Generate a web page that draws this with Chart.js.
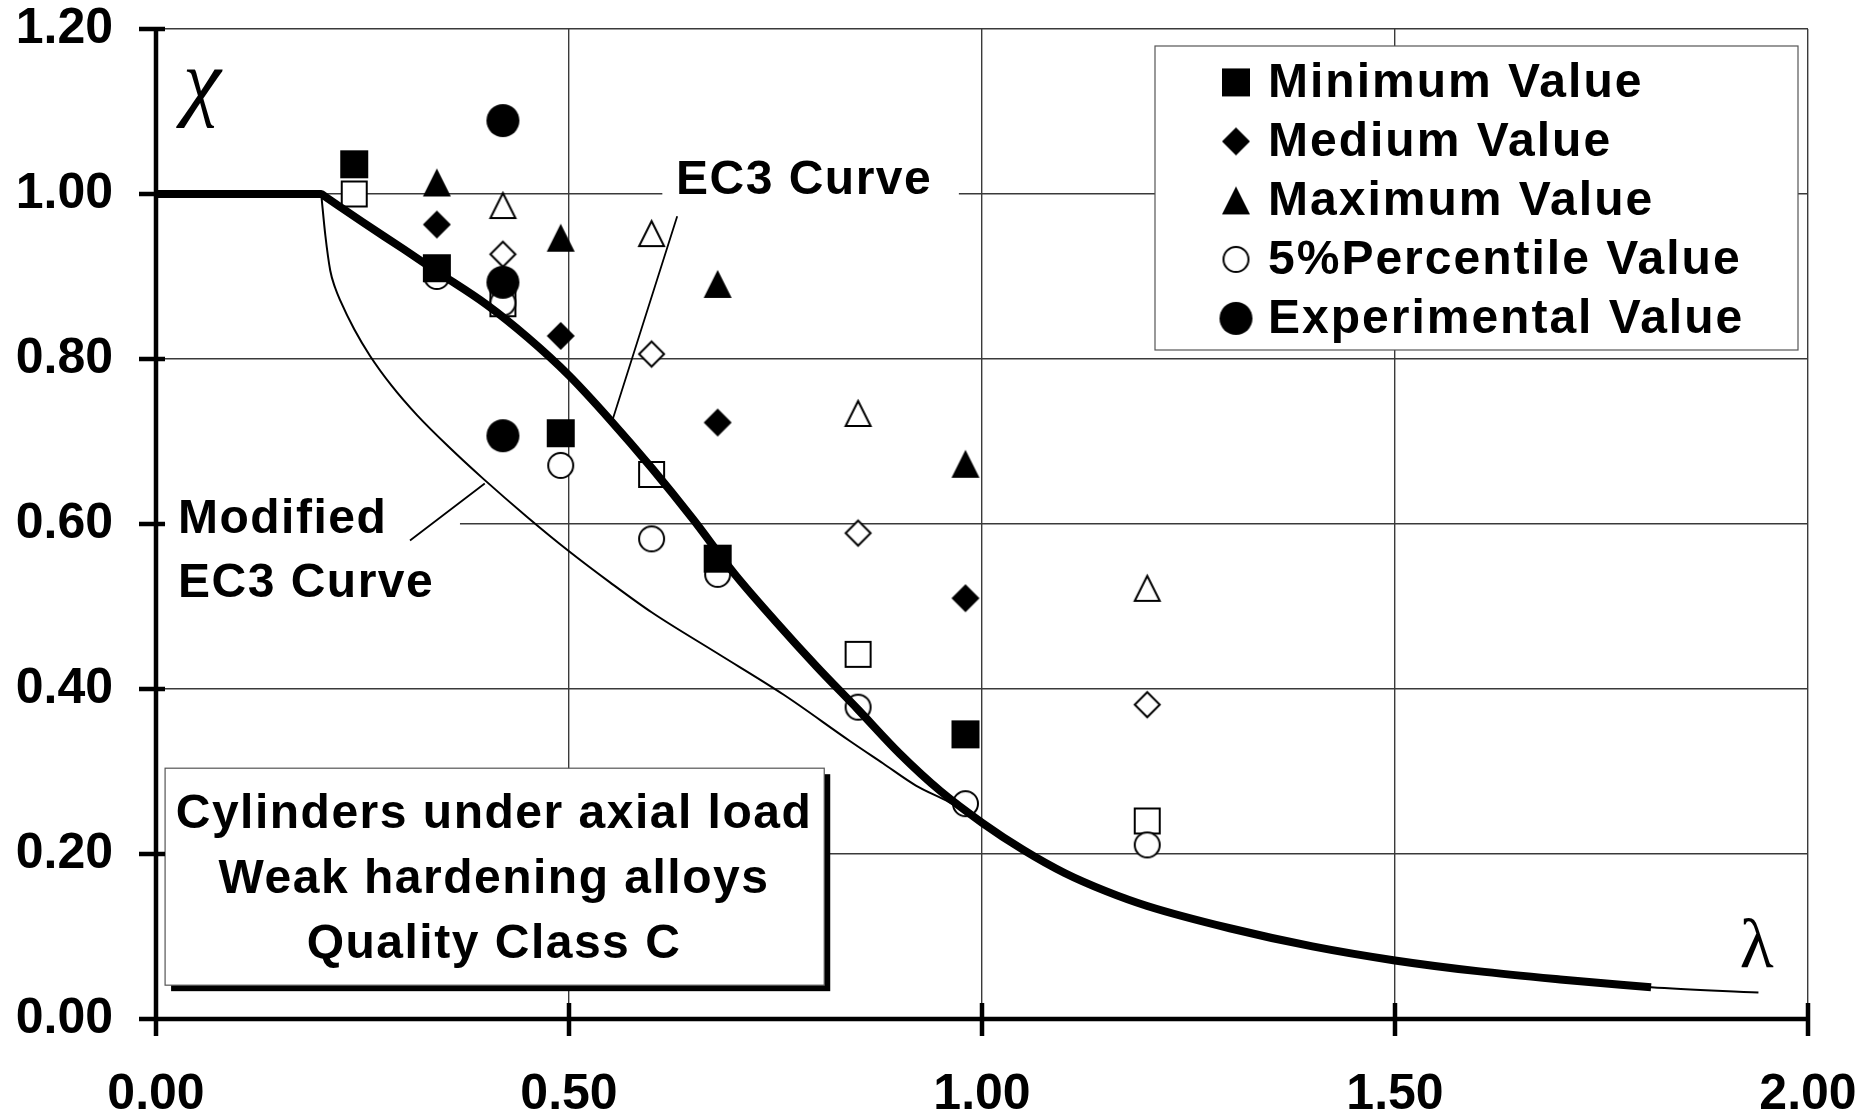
<!DOCTYPE html>
<html>
<head>
<meta charset="utf-8">
<script src="https://cdn.jsdelivr.net/npm/chart.js@4.4.0/dist/chart.umd.min.js"></script>
<style>
  html, body { margin: 0; padding: 0; background: #fff; }
  #chart { display: block; }
</style>
</head>
<body>
<canvas id="chart" width="1868" height="1116"></canvas>
<script>
// axis ticks
const xTicks = [0, 0.5, 1.0, 1.5, 2.0];
const yTicks = [0, 0.2, 0.4, 0.6, 0.8, 1.0, 1.2];

// filled markers (legend series)
const minX = [0.24, 0.34, 0.49, 0.68, 0.98];
const minY = [1.036, 0.910, 0.710, 0.558, 0.345];
const medX = [0.34, 0.49, 0.68, 0.98];
const medY = [0.963, 0.828, 0.723, 0.510];
const maxX = [0.34, 0.49, 0.68, 0.98];
const maxY = [1.014, 0.947, 0.891, 0.673];
const pctX = [0.34, 0.42, 0.49, 0.60, 0.68, 0.85, 0.98, 1.20];
const pctY = [0.900, 0.868, 0.671, 0.582, 0.539, 0.378, 0.261, 0.211];
const expX = [0.42, 0.42, 0.42];
const expY = [1.089, 0.893, 0.707];

// open markers (second set, not in legend)
const min2X = [0.24, 0.42, 0.60, 0.85, 1.20];
const min2Y = [1.000, 0.867, 0.660, 0.442, 0.240];
const med2X = [0.42, 0.60, 0.85, 1.20];
const med2Y = [0.927, 0.806, 0.589, 0.381];
const max2X = [0.42, 0.60, 0.85, 1.20];
const max2Y = [0.986, 0.952, 0.734, 0.522];

// EC3 curve (thick)
const ec3X = [0, 0.20, 0.205, 0.25, 0.30, 0.34, 0.40, 0.45, 0.50, 0.55, 0.60, 0.65, 0.70, 0.75, 0.80, 0.85, 0.90, 0.95, 1.00, 1.05, 1.10, 1.15, 1.20, 1.30, 1.40, 1.50, 1.60, 1.70, 1.81];
const ec3Y = [1.000, 1.000, 0.9966, 0.966, 0.933, 0.906, 0.866, 0.826, 0.780, 0.726, 0.668, 0.606, 0.540, 0.482, 0.427, 0.375, 0.322, 0.276, 0.238, 0.205, 0.177, 0.155, 0.137, 0.110, 0.088, 0.071, 0.058, 0.048, 0.0385];

// modified EC3 curve (thin)
const modX = [0.200, 0.205, 0.211, 0.217, 0.223, 0.240, 0.259, 0.285, 0.316, 0.355, 0.396, 0.450, 0.500, 0.550, 0.600, 0.680, 0.760, 0.840, 0.880, 0.920, 0.960, 1.00, 1.05, 1.10, 1.15, 1.20, 1.30, 1.40, 1.50, 1.60, 1.70, 1.81, 1.94];
const modY = [1.000, 0.950, 0.907, 0.886, 0.871, 0.836, 0.804, 0.768, 0.732, 0.693, 0.655, 0.608, 0.567, 0.529, 0.493, 0.443, 0.393, 0.337, 0.310, 0.283, 0.263, 0.238, 0.205, 0.177, 0.155, 0.137, 0.110, 0.088, 0.071, 0.058, 0.048, 0.0385, 0.032];

const legendOrder = ['Minimum Value', 'Medium Value', 'Maximum Value', '5%Percentile Value', 'Experimental Value'];
const boxLines = ['Cylinders under axial load', 'Weak hardening alloys', 'Quality Class C'];

const SANS = '"Liberation Sans", Arial, sans-serif';
const SERIF = '"Liberation Serif", "Times New Roman", serif';

function pts(xs, ys) {
    return xs.map((v, i) => ({x: v, y: ys[i]}));
}

// small canvases used as point styles, so the marker shapes match the original
function markerImg(shape, size, open) {
    const c = document.createElement('canvas');
    const n = Math.ceil(size) + 4;
    c.width = n;
    c.height = n;
    const g = c.getContext('2d');
    const m = n / 2;
    const h = open ? size / 2 - 1 : size / 2;
    g.beginPath();
    if (shape === 'square') {
        g.rect(m - h, m - h, 2 * h, 2 * h);
    } else if (shape === 'diamond') {
        g.moveTo(m, m - h); g.lineTo(m + h, m); g.lineTo(m, m + h); g.lineTo(m - h, m); g.closePath();
    } else if (shape === 'triangle') {
        g.moveTo(m, m - h); g.lineTo(m + h, m + h); g.lineTo(m - h, m + h); g.closePath();
    } else {
        g.arc(m, m, h, 0, Math.PI * 2);
    }
    g.fillStyle = open ? '#fff' : '#000';
    g.fill();
    if (open) {
        g.lineWidth = 2;
        g.strokeStyle = '#000';
        g.stroke();
    }
    return c;
}

function markers(label, xs, ys, img) {
    return {label: label, data: pts(xs, ys), pointStyle: img, pointRadius: 14, pointHoverRadius: 14, showLine: false};
}

const datasets = [
    {label: 'EC3 Curve', data: pts(ec3X, ec3Y), showLine: true, borderColor: '#000', borderWidth: 8, pointRadius: 0, cubicInterpolationMode: 'monotone'},
    {label: 'Modified EC3 Curve', data: pts(modX, modY), showLine: true, borderColor: '#000', borderWidth: 2, pointRadius: 0, cubicInterpolationMode: 'monotone'},
    markers('Experimental Value', expX, expY, markerImg('circle', 33, false)),
    markers('Minimum Value', minX, minY, markerImg('square', 28, false)),
    markers('Medium Value', medX, medY, markerImg('diamond', 28, false)),
    markers('Maximum Value', maxX, maxY, markerImg('triangle', 28, false)),
    markers('5%Percentile Value', pctX, pctY, markerImg('circle', 27, true)),
    markers('Maximum Value (open)', max2X, max2Y, markerImg('triangle', 27, true)),
    markers('Medium Value (open)', med2X, med2Y, markerImg('diamond', 27, true)),
    markers('Minimum Value (open)', min2X, min2Y, markerImg('square', 27, true)),
];

const decor = {
    id: 'decor',
    beforeDatasetsDraw(chart) {
        const {ctx, chartArea: a} = chart;
        const px = v => chart.scales.x.getPixelForValue(v);
        const py = v => chart.scales.y.getPixelForValue(v);
        ctx.save();

        // white patches behind the two curve labels
        ctx.fillStyle = '#fff';
        ctx.fillRect(px(0.613), py(1.053), px(0.972) - px(0.613), py(0.986) - py(1.053));
        ctx.fillRect(px(0.011), py(0.641), px(0.368) - px(0.011), py(0.493) - py(0.641));

        // text box with drop shadow
        const bx = px(0.011), by = py(0.304), bw = px(0.809) - bx, bh = py(0.041) - by;
        ctx.fillStyle = '#000';
        ctx.fillRect(bx + 6, by + 6, bw, bh);
        ctx.fillStyle = '#fff';
        ctx.fillRect(bx, by, bw, bh);
        ctx.strokeStyle = '#555';
        ctx.lineWidth = 1.2;
        ctx.strokeRect(bx, by, bw, bh);

        // heavy axes with ticks crossing them
        ctx.strokeStyle = '#000';
        ctx.lineWidth = 4.5;
        ctx.beginPath();
        ctx.moveTo(a.left, a.top);
        ctx.lineTo(a.left, a.bottom + 17);
        ctx.moveTo(a.left - 17, a.bottom);
        ctx.lineTo(a.right, a.bottom);
        yTicks.forEach(v => { ctx.moveTo(a.left - 17, py(v)); ctx.lineTo(a.left + 9, py(v)); });
        xTicks.forEach(v => { ctx.moveTo(px(v), a.bottom - 16); ctx.lineTo(px(v), a.bottom + 17); });
        ctx.stroke();
        ctx.restore();
    },
    afterDatasetsDraw(chart) {
        const {ctx, chartArea: a} = chart;
        const px = v => chart.scales.x.getPixelForValue(v);
        const py = v => chart.scales.y.getPixelForValue(v);
        ctx.save();

        // leader lines
        ctx.strokeStyle = '#000';
        ctx.lineWidth = 1.8;
        ctx.beginPath();
        ctx.moveTo(px(0.631), py(0.973));
        ctx.lineTo(px(0.552), py(0.724));
        ctx.moveTo(px(0.3075), py(0.580));
        ctx.lineTo(px(0.398), py(0.649));
        ctx.stroke();

        ctx.fillStyle = '#000';
        ctx.letterSpacing = '1.5px';
        ctx.font = 'bold 48px ' + SANS;
        ctx.textBaseline = 'alphabetic';
        ctx.textAlign = 'left';
        ctx.fillText('EC3 Curve', px(0.6295), py(1.0));
        ctx.fillText('Modified', px(0.0266), py(0.5886));
        ctx.fillText('EC3 Curve', px(0.0266), py(0.511));

        ctx.textAlign = 'center';
        const cx = px(0.4092);
        [0.231, 0.1522, 0.0735].forEach((v, i) => ctx.fillText(boxLines[i], cx, py(v)));

        // axis symbols
        ctx.letterSpacing = '0px';
        ctx.font = 'italic 86px ' + SERIF;
        ctx.fillText('\u03c7', px(0.0557), py(1.1034));
        ctx.font = '70px ' + SERIF;
        ctx.fillText('\u03bb', px(1.938), py(0.0626));

        // legend box
        const lw = 643, lh = 304;
        const lx = a.right - 10 - lw, ly = a.top + 17;
        ctx.fillStyle = '#fff';
        ctx.fillRect(lx, ly, lw, lh);
        ctx.strokeStyle = '#555';
        ctx.lineWidth = 1.2;
        ctx.strokeRect(lx, ly, lw, lh);
        ctx.fillStyle = '#000';
        ctx.textAlign = 'left';
        ctx.font = 'bold 48px ' + SANS;
        ctx.letterSpacing = '2px';
        legendOrder.forEach((name, i) => {
            const ds = chart.data.datasets.find(d => d.label === name);
            const base = ly + 51.4 + i * 59;
            const img = ds.pointStyle;
            ctx.drawImage(img, lx + 81 - img.width / 2, base - 15 - img.height / 2);
            ctx.fillText(name, lx + 113, base);
        });
        ctx.restore();
    }
};

// fixed plot frame; drop the label overflow padding Chart.js adds on its own
function noPad(s) {
    s.paddingLeft = 0;
    s.paddingRight = 0;
    s.paddingTop = 0;
    s.paddingBottom = 0;
}

new Chart(document.getElementById('chart'), {
    type: 'scatter',
    data: {datasets: datasets},
    options: {
        responsive: false,
        devicePixelRatio: 1,
        animation: false,
        events: [],
        layout: {padding: {top: 29, right: 60, bottom: 0, left: 0}, autoPadding: false},
        plugins: {
            legend: {display: false},
            tooltip: {enabled: false}
        },
        scales: {
            x: {
                type: 'linear',
                min: 0,
                max: 2,
                afterFit: s => { s.height = 97; noPad(s); },
                afterBuildTicks: s => { s.ticks = xTicks.map(v => ({value: v})); },
                grid: {color: '#3a3a3a', lineWidth: 1.4, drawTicks: false},
                border: {display: false},
                ticks: {
                    padding: 46,
                    color: '#000',
                    font: {family: SANS, size: 50, weight: 'bold'},
                    callback: v => v.toFixed(2)
                }
            },
            y: {
                type: 'linear',
                min: 0,
                max: 1.2,
                afterFit: s => { s.width = 156; noPad(s); },
                afterBuildTicks: s => { s.ticks = yTicks.map(v => ({value: v})); },
                grid: {color: '#3a3a3a', lineWidth: 1.4, drawTicks: false},
                border: {display: false},
                ticks: {
                    padding: 43,
                    color: '#000',
                    font: {family: SANS, size: 50, weight: 'bold'},
                    callback: v => v.toFixed(2)
                }
            }
        }
    },
    plugins: [decor]
});
</script>
</body>
</html>
